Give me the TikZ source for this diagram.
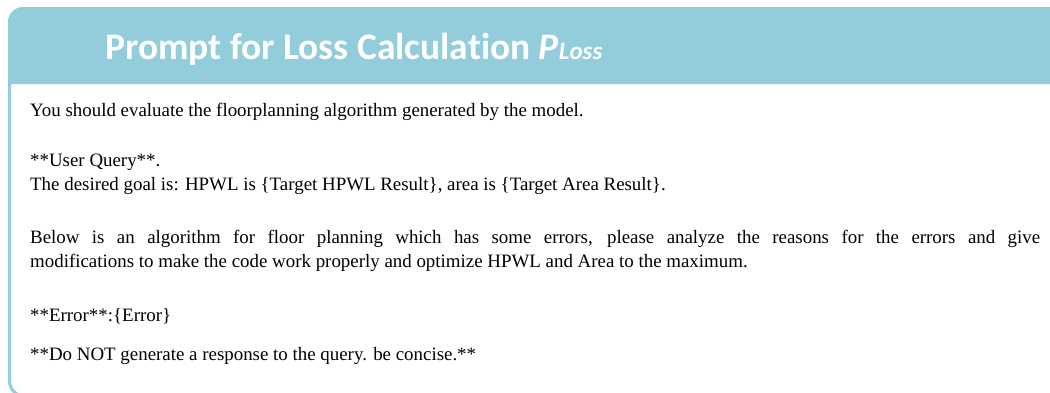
\documentclass[tikz,border=0pt]{standalone}
\usepackage{fontspec}
\setmainfont{Liberation Serif}
\newfontfamily\headfont[Ligatures={NoCommon}]{Carlito}
\definecolor{frameblue}{HTML}{93CDDC}
\tikzset{
  bodytext/.style={anchor=base west, inner sep=0pt, font=\fontsize{18.9}{22}\selectfont, text=black},
  headtext/.style={anchor=base west, inner sep=0pt, font=\headfont\bfseries\fontsize{37.5}{40}\selectfont, text=white},
}
\begin{document}
\begin{tikzpicture}[x=1pt,y=-1pt]
  \useasboundingbox (0,0) rectangle (1050,392);
  \clip (0,0) rectangle (1050,392);
  % outer frame
  \draw[frameblue, line width=3pt, fill=white, rounded corners=15pt]
    (9.5,8.5) rectangle (1075,396);
  % title band: only the upper left corner is rounded
  \fill[frameblue]
    (1080,84) -- (8,84) -- (8,40) [rounded corners=15pt] -- (8,7)
    -- (1080,7) [sharp corners] -- cycle;
  \node[headtext] (title) at (105,59)
    {Prompt for Loss Calculation \textit{P{\fontsize{25}{28}\selectfont Loss}}};
  % prompt body
  \node[bodytext] (intro) at (30,116)
    {You should evaluate the floorplanning algorithm generated by the model.};
  \node[bodytext] (query) at (30,166) {**User Query**.};
  \node[bodytext] (goal) at (30,190)
    {The desired goal is: HPWL is \{Target HPWL Result\}, area is \{Target Area Result\}.};
  \node[bodytext] (below1) at (30,243)
    {\makebox[1010pt][s]{Below is an algorithm for floor planning which has some errors, please analyze the reasons for the errors and give}};
  \node[bodytext] (below2) at (30,267)
    {modifications to make the code work properly and optimize HPWL and Area to the maximum.};
  \node[bodytext] (error) at (30,321) {**Error**:\{Error\}};
  \node[bodytext] (concise) at (30,360)
    {**Do NOT generate a response to the query. be concise.**};
\end{tikzpicture}
\end{document}
